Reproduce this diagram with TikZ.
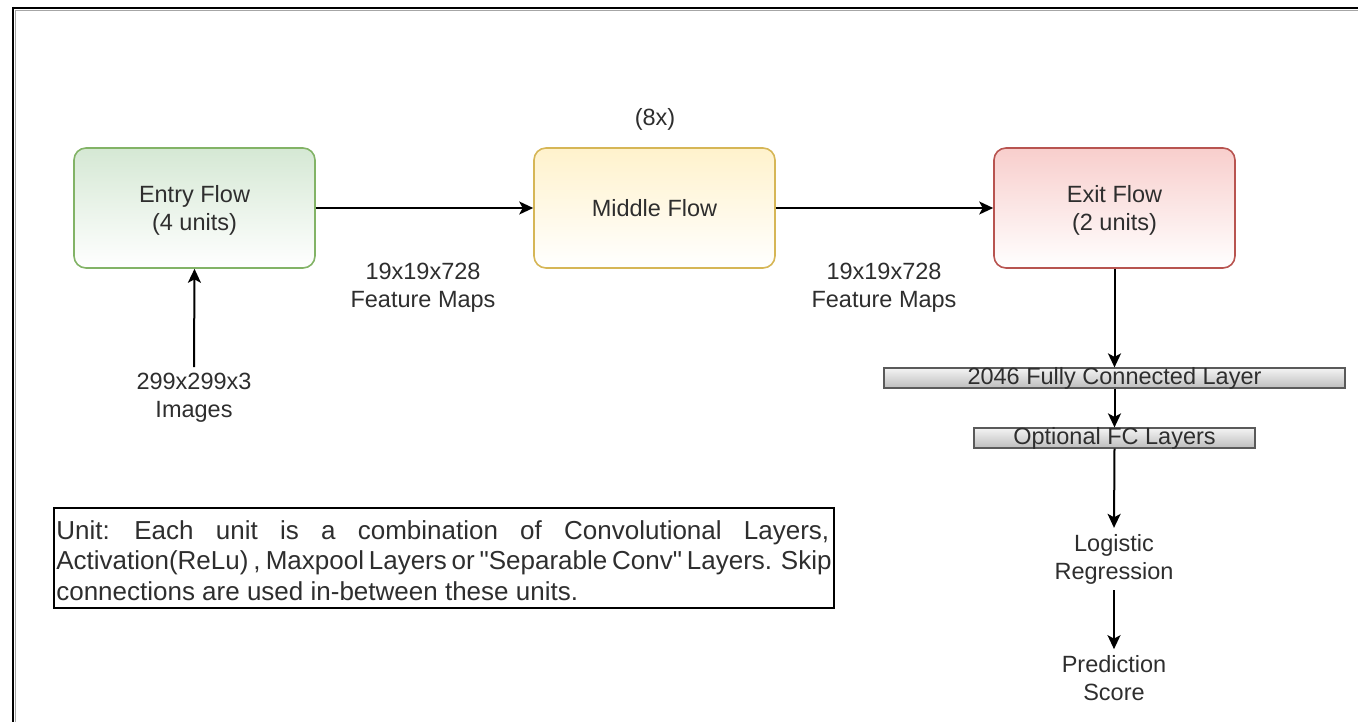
\documentclass[tikz,border=0pt]{standalone}
\usepackage{fontspec}
\setmainfont{Liberation Sans}
\newfontfamily\plainsans{Liberation Sans}
\usetikzlibrary{arrows.meta}

\definecolor{txt}{HTML}{2E2E2E}
\definecolor{greenfill}{HTML}{D5E8D4}
\definecolor{greenline}{HTML}{82B366}
\definecolor{yellowfill}{HTML}{FFF2CC}
\definecolor{yellowline}{HTML}{D6B656}
\definecolor{redfill}{HTML}{F8CECC}
\definecolor{redline}{HTML}{B85450}
\definecolor{bartop}{HTML}{F4F4F4}
\definecolor{barbottom}{HTML}{BDBDBD}
\definecolor{barline}{HTML}{5A5A5A}

\tikzset{
  x=1pt, y=-1pt,
  lbl/.style={font=\fontsize{23.5}{28}\selectfont, text=txt, align=center, inner xsep=0pt, inner ysep=6pt},
  flowbox/.style={draw, line width=1.6pt, rounded corners=12pt, minimum width=241pt, minimum height=120pt,
                  bottom color=white, font=\fontsize{23.5}{28}\selectfont, text=txt, align=center},
  barbox/.style={draw=barline, line width=1.2pt, top color=bartop, bottom color=barbottom,
                 minimum height=20pt, inner sep=0pt},
  arr/.style={line width=2pt, -{Stealth[length=14pt,width=13pt,inset=3.5pt]}},
}

\begin{document}
\begin{tikzpicture}
\useasboundingbox (0,0) rectangle (1358,722);

% outer frame (top and left edges with a soft grey shadow)
\draw[line width=1.5pt, black!35] (15,10.5) -- (1358,10.5);
\draw[line width=1.5pt, black!35] (15.5,10) -- (15.5,722);
\draw[line width=2pt, black] (13,8) -- (1358,8);
\draw[line width=2pt, black] (13,7) -- (13,722);

% main flow blocks
\node[flowbox, top color=greenfill, draw=greenline] (entry) at (194.5,208) {};
\node[lbl, inner ysep=0pt] at ([yshift=-2pt]entry.center) {Entry Flow\\(4 units)};
\node[flowbox, top color=yellowfill, draw=yellowline] (middle) at (654.5,208) {Middle Flow};
\node[flowbox, top color=redfill, draw=redline] (exit) at (1114.5,208) {};
\node[lbl, inner ysep=0pt] at ([yshift=-2pt]exit.center) {Exit Flow\\(2 units)};

\node[lbl] (rep) at (655,119) {(8x)};

% input and intermediate shapes
\node[lbl] (img) at (194,398) {299x299x3\\Images};
\node[lbl] (fm1) at (423,288) {19x19x728\\Feature Maps};
\node[lbl] (fm2) at (884,288) {19x19x728\\Feature Maps};

% classifier head
\node[barbox, minimum width=461pt] (fc) at (1114.5,378) {};
\node[lbl, inner ysep=0pt] at (fc.center) {2046 Fully Connected Layer};
\node[barbox, minimum width=281pt] (opt) at (1114.5,438) {};
\node[lbl, inner ysep=0pt] at (opt.center) {Optional FC Layers};
\node[lbl] (logit) at (1114,559) {Logistic\\Regression};
\node[lbl] (pred) at (1114,678) {Prediction\\Score};

% connectors
\draw[arr] (img.north) -- (entry.south);
\draw[arr] (entry.east) -- (middle.west);
\draw[arr] (middle.east) -- (exit.west);
\draw[arr] (exit.south) -- (fc.north);
\draw[arr] (fc.south) -- (opt.north);
\draw[arr] (opt.south) -- (logit.north);
\draw[arr] (logit.south) -- (pred.north);

% legend box, justified text
\node[draw, line width=1.8pt, minimum width=780pt, minimum height=100pt, inner sep=0pt] (unit) at (444,558) {};
\node[anchor=north west, inner sep=0pt, text=txt, font=\fontsize{26}{30.5}\selectfont, align=left]
  at ([xshift=3pt, yshift=-13pt]unit.north west)
  {\hbox to 773pt{Unit: \hfill Each \hfill unit \hfill is \hfill a \hfill combination \hfill of \hfill Convolutional \hfill Layers,}\\
   \hbox to 773pt{Activation(ReLu) \hfill , \hfill Maxpool \hfill Layers \hfill or \hfill {\plainsans"}Separable \hfill Conv{\plainsans"} \hfill Layers. \hfill Skip}\\
   connections are used in-between these units.};
\end{tikzpicture}
\end{document}
